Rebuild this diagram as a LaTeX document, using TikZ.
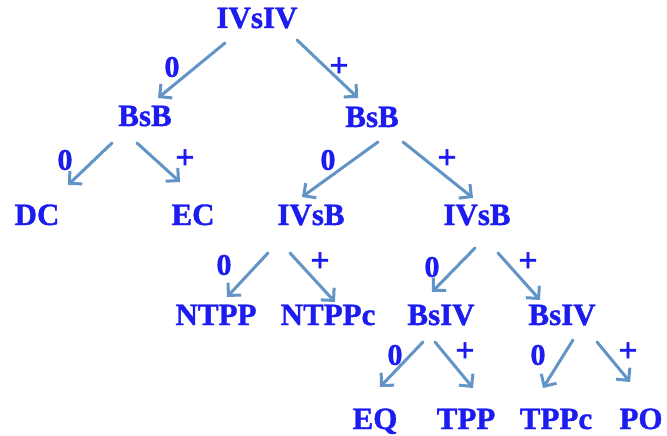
\documentclass[tikz,border=0pt]{standalone}
\usepackage{fontspec}
\setmainfont{Liberation Serif}
\newfontfamily\heavyfont{Liberation Serif Bold}[FakeBold=1.2]
\usetikzlibrary{arrows.meta}
\definecolor{txtblue}{RGB}{28,28,240}
\definecolor{arrblue}{RGB}{98,148,198}
\tikzset{
  tn/.style={anchor=base, inner sep=0pt, text=txtblue, font=\fontsize{31}{31}\heavyfont},
  lbl/.style={anchor=center, inner sep=0pt, text=txtblue, font=\fontsize{30}{30}\heavyfont},
  plbl/.style={anchor=center, inner sep=0pt, text=txtblue, font=\fontsize{34}{34}\heavyfont},
  arr/.style={draw=arrblue, line width=3pt, line cap=round,
    -{Straight Barb[length=9pt,width=18pt,line width=3pt]}}
}
\begin{document}
\begin{tikzpicture}[x=1pt,y=-1pt]
\useasboundingbox[fill=white] (0,0) rectangle (667,436);
% nodes
\node[tn] (A) at (257,28) {IVsIV};
\node[tn] (B1) at (145,126) {BsB};
\node[tn] (B2) at (372,127) {BsB};
\node[tn] (DC) at (37,225) {DC};
\node[tn] (EC) at (193,225) {EC};
\node[tn] (C1) at (311,225) {IVsB};
\node[tn] (C2) at (477,225) {IVsB};
\node[tn] (NTPP) at (216,325) {NTPP};
\node[tn] (NTPPc) at (328,325) {NTPPc};
\node[tn] (D1) at (441,325) {BsIV};
\node[tn] (D2) at (562,325) {BsIV};
\node[tn] (EQ) at (375,429) {EQ};
\node[tn] (TPP) at (466,429) {TPP};
\node[tn] (TPPc) at (556,429) {TPPc};
\node[tn] (PO) at (641,429) {PO};
% arrows
\draw[arr] ([shift={(-32,15)}]A.base) -- ([shift={(13,-28)}]B1.base);
\draw[arr] ([shift={(40,12)}]A.base) -- ([shift={(-14,-29)}]B2.base);
\draw[arr] ([shift={(-33,17)}]B1.base) -- ([shift={(31,-40)}]DC.base);
\draw[arr] ([shift={(-8,17)}]B1.base) -- ([shift={(-13,-43)}]EC.base);
\draw[arr] ([shift={(6,15)}]B2.base) -- ([shift={(-9,-28)}]C1.base);
\draw[arr] ([shift={(31,15)}]B2.base) -- ([shift={(-4,-27)}]C2.base);
\draw[arr] ([shift={(-43,28)}]C1.base) -- ([shift={(11,-28)}]NTPP.base);
\draw[arr] ([shift={(-21,28)}]C1.base) -- ([shift={(7,-23)}]NTPPc.base);
\draw[arr] ([shift={(-2,23)}]C2.base) -- ([shift={(-9,-33)}]D1.base);
\draw[arr] ([shift={(21,28)}]C2.base) -- ([shift={(-22,-25)}]D2.base);
\draw[arr] ([shift={(-18,17)}]D1.base) -- ([shift={(5,-42)}]EQ.base);
\draw[arr] ([shift={(-6,17)}]D1.base) -- ([shift={(7,-41)}]TPP.base);
\draw[arr] ([shift={(11,15)}]D2.base) -- ([shift={(-13,-41)}]TPPc.base);
\draw[arr] ([shift={(35,17)}]D2.base) -- ([shift={(-11,-47)}]PO.base);
% labels
\node[lbl] (l1a) at (172,67) {0};
\node[plbl] (l1b) at (339,67) {+};
\node[lbl] (l2a) at (65,160) {0};
\node[plbl] (l2b) at (185,159) {+};
\node[lbl] (l3a) at (328,160) {0};
\node[plbl] (l3b) at (447,159) {+};
\node[lbl] (l4a) at (224,265) {0};
\node[plbl] (l4b) at (320,262) {+};
\node[lbl] (l4c) at (432,267) {0};
\node[plbl] (l4d) at (528,262) {+};
\node[lbl] (l5a) at (395,355) {0};
\node[plbl] (l5b) at (465,352) {+};
\node[lbl] (l5c) at (538,355) {0};
\node[plbl] (l5d) at (628,352) {+};
\end{tikzpicture}
\end{document}
